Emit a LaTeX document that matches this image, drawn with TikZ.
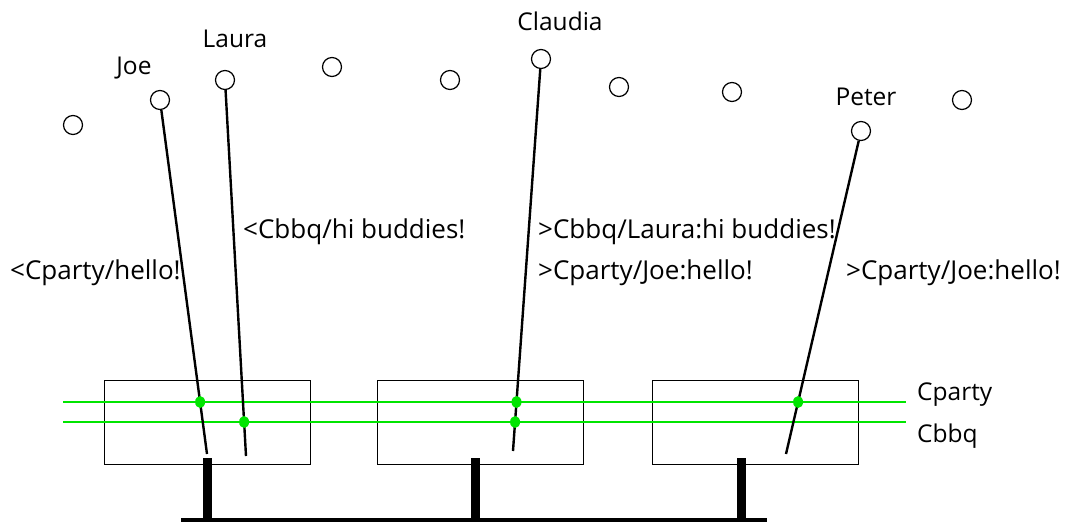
\documentclass[tikz,border=0pt]{standalone}
\usepackage{fontspec}
\setmainfont{Open Sans}
\usetikzlibrary{intersections,shapes.geometric}
\begin{document}
\begin{tikzpicture}[x=1pt,y=-1pt,
  user/.style={circle,draw,line width=1.2pt,minimum size=19pt,inner sep=0pt},
  name label/.style={font=\fontsize{24.5}{28}\selectfont,inner sep=0pt,anchor=base},
  msg/.style={font=\fontsize{26}{30}\selectfont,inner sep=0pt,anchor=base west},
  chan label/.style={font=\fontsize{24.5}{28}\selectfont,inner sep=0pt,anchor=base west},
  link/.style={line width=2.4pt},
  server/.style={draw,line width=1pt,minimum width=206pt,minimum height=84pt,inner sep=0pt},
  channel/.style={draw=green!90!black,line width=2pt},
  hit/.style={fill=green!90!black,ellipse,minimum width=10pt,minimum height=12pt,inner sep=0pt},
  stub/.style={line width=9pt},
  bus/.style={line width=4.5pt}]
\useasboundingbox (0,0) rectangle (1072,524);

% users on the ring
\node[user] (u1) at (73,125) {};
\node[user] (joe) at (160,100) {};
\node[user] (laura) at (225,80) {};
\node[user] (u4) at (332,67) {};
\node[user] (u5) at (450,80) {};
\node[user] (claudia) at (541,59) {};
\node[user] (u7) at (619,87) {};
\node[user] (u8) at (732,92) {};
\node[user] (peter) at (861,131) {};
\node[user] (u10) at (962,100) {};

\node[name label] (ljoe) at (134,75) {Joe};
\node[name label] (llaura) at (235,48) {Laura};
\node[name label] (lclaudia) at (560,31) {Claudia};
\node[name label] (lpeter) at (866,106) {Peter};

% servers
\node[server] (s1) at (207,422) {};
\node[server] (s2) at (480,422) {};
\node[server] (s3) at (755,422) {};

% channels
\coordinate (cpL) at (63,402);
\coordinate (cpR) at (906,402);
\coordinate (cbL) at (63,422);
\coordinate (cbR) at (906,422);
\draw[channel,name path=cparty] (cpL) -- (cpR);
\draw[channel,name path=cbbq] (cbL) -- (cbR);
\node[chan label] (lcparty) at (917,400) {Cparty};
\node[chan label] (lcbbq) at (917,442) {Cbbq};

% client connections
\coordinate (ejoe) at (207,454);
\coordinate (elaura) at (246,456);
\coordinate (eclaudia) at (513,451);
\coordinate (epeter) at (786,454);
\draw[link,name path=pjoe] (joe) -- (ejoe);
\draw[link,name path=plaura] (laura) -- (elaura);
\draw[link,name path=pclaudia] (claudia) -- (eclaudia);
\draw[link,name path=ppeter] (peter) -- (epeter);

% joins
\path[name intersections={of=pjoe and cparty,by=j1}];
\path[name intersections={of=plaura and cbbq,by=j2}];
\path[name intersections={of=pclaudia and cparty,by=j3}];
\path[name intersections={of=pclaudia and cbbq,by=j4}];
\path[name intersections={of=ppeter and cparty,by=j5}];
\foreach \j in {j1,j2,j3,j4,j5} \node[hit] at (\j) {};

% messages
\node[msg] (m1) at (10,279) {<Cparty/hello!};
\node[msg] (m2) at (243,239) {<Cbbq/hi buddies!};
\node[msg] (m3) at (538,239) {>Cbbq/Laura:hi buddies!};
\node[msg] (m4) at (538,279) {>Cparty/Joe:hello!};
\node[msg] (m5) at (846,279) {>Cparty/Joe:hello!};

% backbone
\coordinate (t1) at (207,458);
\coordinate (t2) at (475,458);
\coordinate (t3) at (741,458);
\coordinate (b1) at (207,522);
\coordinate (b2) at (475,522);
\coordinate (b3) at (741,522);
\coordinate (busL) at (181,520);
\coordinate (busR) at (767,520);
\draw[stub] (t1) -- (b1);
\draw[stub] (t2) -- (b2);
\draw[stub] (t3) -- (b3);
\draw[bus] (busL) -- (busR);
\end{tikzpicture}
\end{document}
